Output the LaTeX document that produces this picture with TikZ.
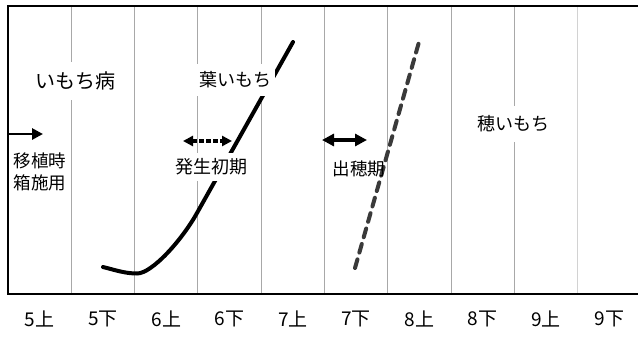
\documentclass[tikz,border=0pt]{standalone}
\usepackage{fontspec}
\setmainfont{Noto Sans CJK JP}
\usetikzlibrary{arrows.meta}
\definecolor{gridgray}{HTML}{A8A8A8}
\definecolor{dashgray}{HTML}{3A3A3A}
\tikzset{
  frame/.style={line width=2.4pt, black},
  gridln/.style={line width=0.9pt, gridgray},
  leaf/.style={line width=4pt, black, line cap=round},
  panicle/.style={line width=4pt, dashgray, line cap=round, dash pattern=on 9pt off 7pt},
  bigtxt/.style={font=\fontsize{20}{24}\selectfont, fill=white, inner xsep=4pt, inner ysep=10pt},
  midtxt/.style={font=\fontsize{18}{22}\selectfont, fill=white, inner xsep=4pt, inner ysep=8pt},
  smalltxt/.style={font=\fontsize{17.5}{22}\selectfont, inner sep=2pt, align=center},
  axislab/.style={font=\fontsize{19}{22}\selectfont, inner sep=1pt},
  solidarrow/.style={line width=2.8pt, -{Triangle[length=11pt,width=11pt]}},
  dblarrow/.style={line width=3.2pt, {Triangle[length=12pt,width=12pt]}-{Triangle[length=12pt,width=12pt]}},
  dotarrow/.style={line width=3.2pt, dash pattern=on 4.5pt off 2.5pt, {Triangle[length=10pt,width=10pt]}-{Triangle[length=10pt,width=10pt]}}
}
\begin{document}
\begin{tikzpicture}[x=1pt,y=-1pt]
\useasboundingbox (0,0) rectangle (638,338);
\fill[white] (0,0) rectangle (638,338);
% grid lines
\foreach \k in {1,...,8} \draw[gridln] ({8+63.3*\k},6) -- ({8+63.3*\k},294);
\draw[line width=1.3pt, gray!35] ({8+63.3*9},6) -- ({8+63.3*9},294);
% frame
\draw[frame] (638,6) -- (8,6) -- (8,294) -- (638,294);
% axis labels
\foreach \t [count=\i from 0] in {5上,5下,6上,6下,7上,7下,8上,8下,9上,9下}
  \node[axislab] (lab\i) at ({8+63.3*(\i+0.5)},319) {\t};
% leaf blast curve
\coordinate (c0) at (103,267);
\coordinate (c1) at (137,273.5);
\coordinate (c2) at (197,213);
\coordinate (c3) at (293,42);
\draw[leaf] (c0) .. controls (115,270) and (125,273.5) .. (c1)
  .. controls (152,273.5) and (182,240) .. (c2) -- (c3);
% panicle blast line
\coordinate (p0) at (355,268);
\coordinate (p1) at (419,42);
\draw[panicle] (p0) -- (p1);
% texts
\node[bigtxt] (imochi) at (75,81) {いもち病};
\node[midtxt] (hamochi) at (235,80) {葉いもち};
\node[midtxt, inner ysep=10pt] (homochi) at (513.5,124) {穂いもち};
\node[midtxt, inner ysep=6pt] (hassei) at (211,167) {発生初期};
\node[smalltxt] (hakoseyo) at (40,172) {移植時\\箱施用};
\node[font=\fontsize{17.5}{22}\selectfont, inner sep=1pt] (shussui) at (359,169) {出穂期};
% arrows
\coordinate (a0) at (8,134);
\coordinate (a1) at (43,134);
\draw[solidarrow] (a0) -- (a1);
\coordinate (d0) at (183,141);
\coordinate (d1) at (232,141);
\draw[dotarrow] (d0) -- (d1);
\coordinate (s0) at (322,140);
\coordinate (s1) at (367,140);
\draw[dblarrow] (s0) -- (s1);
\end{tikzpicture}
\end{document}
